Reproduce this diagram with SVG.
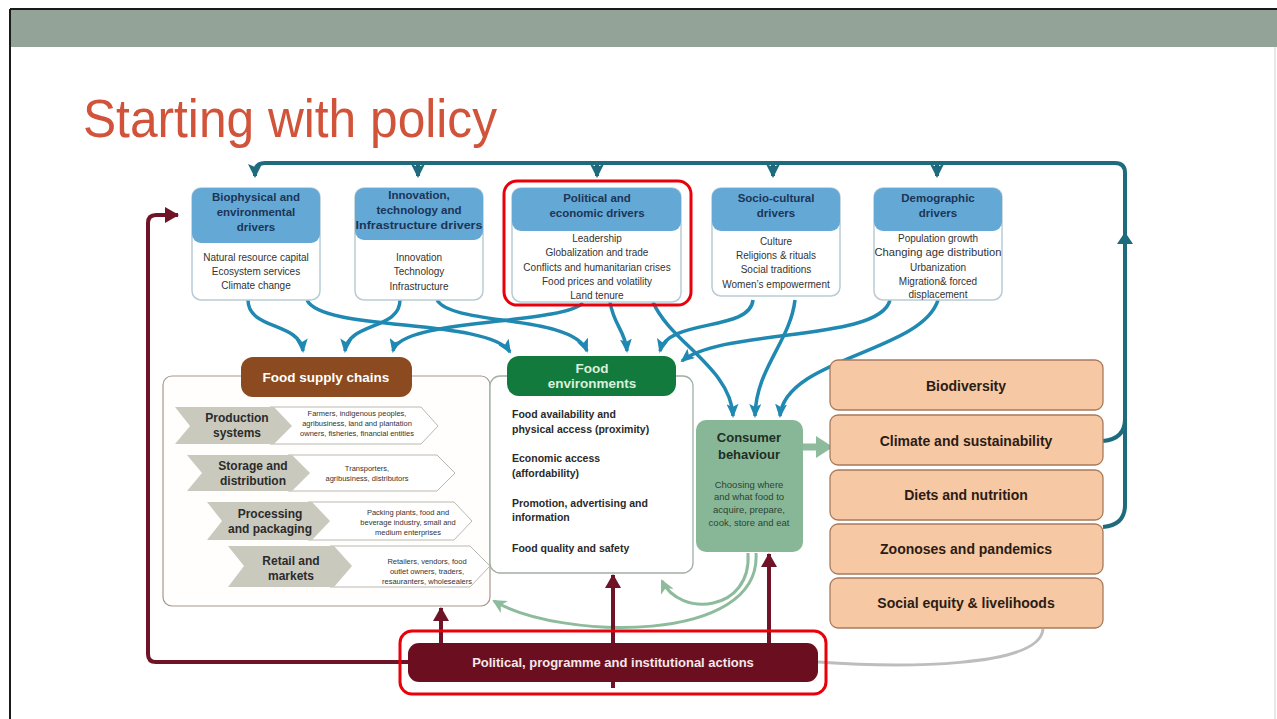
<svg xmlns="http://www.w3.org/2000/svg" width="1277" height="719" viewBox="0 0 1277 719">
  <defs>
    <marker id="ah-teal" markerUnits="userSpaceOnUse" markerWidth="14" markerHeight="12" viewBox="0 0 14 12" refX="12" refY="6" orient="auto">
      <path d="M0,0 L14,6 L0,12 L3,6 Z" fill="#1f89b1"/>
    </marker>
    <marker id="ah-dark" markerUnits="userSpaceOnUse" markerWidth="14" markerHeight="14" viewBox="0 0 14 14" refX="12" refY="7" orient="auto">
      <path d="M0,0 L14,7 L0,14 L3,7 Z" fill="#1d6b7c"/>
    </marker>
    <marker id="ah-maroon" markerUnits="userSpaceOnUse" markerWidth="14" markerHeight="16" viewBox="0 0 14 16" refX="13" refY="8" orient="auto">
      <path d="M0,0 L14,8 L0,16 Z" fill="#6e1426"/>
    </marker>
    <marker id="ah-sage" markerUnits="userSpaceOnUse" markerWidth="14" markerHeight="14" viewBox="0 0 14 14" refX="12" refY="7" orient="auto">
      <path d="M0,0 L14,7 L0,14 L4,7 Z" fill="#8dbb9c"/>
    </marker>
  </defs>
  <style>
    .sans { font-family: "Liberation Sans", Arial, sans-serif; }
    .drvbox { fill: #ffffff; stroke: #b9cbd5; stroke-width: 1.5; }
    .drvhead { fill: #64a8d6; }
    .drvtitle { font-family: "Liberation Sans", Arial, sans-serif; font-weight: bold; font-size: 11.5px; fill: #1c3556; text-anchor: middle; }
    .drvbody { font-family: "Liberation Sans", Arial, sans-serif; font-size: 10px; fill: #333333; text-anchor: middle; }
    .teal { fill: none; stroke: #1f89b1; stroke-width: 3.5; marker-end: url(#ah-teal); }
    .loop { fill: none; stroke: #1d6b7c; stroke-width: 4; }
    .maroon { fill: none; stroke: #6e1426; stroke-width: 4; }
    .sage { fill: none; stroke: #8dbb9c; stroke-width: 3; marker-end: url(#ah-sage); }
    .chev { fill: #c9c9bd; }
    .chevw { fill: #ffffff; stroke: #b8b8b0; stroke-width: 1; }
    .chevlab { font-family: "Liberation Sans", Arial, sans-serif; font-weight: bold; font-size: 12px; fill: #2b2b2b; text-anchor: middle; }
    .chevdesc { font-family: "Liberation Sans", Arial, sans-serif; font-size: 7.5px; fill: #333333; text-anchor: middle; }
    .febody { font-family: "Liberation Sans", Arial, sans-serif; font-weight: bold; font-size: 10.5px; fill: #2a2a2a; }
    .outbox { fill: #f7c8a4; stroke: #a87a5c; stroke-width: 1.3; }
    .outtext { font-family: "Liberation Sans", Arial, sans-serif; font-weight: bold; font-size: 14px; fill: #2b1c14; text-anchor: middle; }
    .hl { fill: none; stroke: #e8000b; stroke-width: 3; }
  </style>

  <!-- slide frame and header band -->
  <rect x="0" y="0" width="1277" height="719" fill="#ffffff"/>
  <rect x="10" y="9" width="1267" height="38" fill="#93a397"/>
  <line x1="10" y1="9" x2="1277" y2="9" stroke="#1a1a1a" stroke-width="2"/>
  <line x1="10" y1="9" x2="10" y2="719" stroke="#1a1a1a" stroke-width="2"/>
  <line x1="1275" y1="47" x2="1275" y2="719" stroke="#d0d0d0" stroke-width="1"/>

  <text x="83" y="137" class="sans" font-size="54" fill="#d0533a" textLength="414" lengthAdjust="spacingAndGlyphs">Starting with policy</text>

  <!-- connectors -->
  <g id="connectors">
    <!-- feedback loop along the top -->
    <path class="loop" d="M1103,527 Q1125,525 1125,505 V173 Q1125,163 1115,163 H265 Q255,163 255,173 V176" marker-end="url(#ah-dark)"/>
    <path class="loop" d="M1103,441 Q1125,439 1125,419"/>
    <path d="M1117,244 L1125,232 L1133,244 Z" fill="#1d6b7c"/>
    <path class="loop" d="M418,163 V176" marker-end="url(#ah-dark)"/>
    <path class="loop" d="M597,163 V176" marker-end="url(#ah-dark)"/>
    <path class="loop" d="M773,163 V176" marker-end="url(#ah-dark)"/>
    <path class="loop" d="M937,163 V176" marker-end="url(#ah-dark)"/>

    <!-- drivers to food supply chains -->
    <path class="teal" d="M248,300 C248,330 300,322 303,351"/>
    <path class="teal" d="M400,300 C400,330 348,322 345,351"/>
    <path class="teal" d="M583,303 C560,325 400,318 393,351"/>
    <!-- drivers to food environments -->
    <path class="teal" d="M307,300 C322,332 488,318 510,352"/>
    <path class="teal" d="M437,300 C452,326 572,314 587,351"/>
    <path class="teal" d="M610,302 C614,326 625,330 627,351"/>
    <path class="teal" d="M753,300 C750,332 668,318 660,351"/>
    <path class="teal" d="M890,300 C880,342 722,328 682,361"/>
    <!-- drivers to consumer behaviour -->
    <path class="teal" d="M653,302 C670,342 731,368 733,416"/>
    <path class="teal" d="M795,300 C790,342 756,368 755,416"/>
    <path class="teal" d="M938,300 C922,352 785,358 780,416"/>

    <!-- consumer behaviour to outcomes -->
    <line x1="803" y1="447" x2="818" y2="447" stroke="#8dbb9c" stroke-width="7"/>
    <path d="M816,436 L833,447 L816,458 Z" fill="#8dbb9c"/>

    <!-- consumer feedback -->
    <path class="sage" d="M748,553 C752,612 680,618 662,581"/>
    <path class="sage" d="M756,553 C762,645 560,640 494,601"/>

    <!-- outcomes back to actions -->
    <path d="M1043,629 C1040,668 900,668 818,662" fill="none" stroke="#bdbdbd" stroke-width="3"/>

    <!-- policy actions -->
    <path class="maroon" d="M408,662 H156 Q148,662 148,654 V223 Q148,215 156,215 H178" marker-end="url(#ah-maroon)"/>
    <path class="maroon" d="M441,643 V608" marker-end="url(#ah-maroon)"/>
    <path class="maroon" d="M613,688 V575" marker-end="url(#ah-maroon)"/>
    <path class="maroon" d="M769,643 V554" marker-end="url(#ah-maroon)"/>
  </g>

  <!-- drivers -->
  <g id="biophysical">
    <rect class="drvbox" x="192" y="188" width="128" height="112" rx="9"/>
    <rect class="drvhead" x="192" y="188" width="128" height="55" rx="9"/>
    <text class="drvtitle" x="256" y="201">Biophysical and</text>
    <text class="drvtitle" x="256" y="216">environmental</text>
    <text class="drvtitle" x="256" y="231">drivers</text>
    <text class="drvbody" x="256" y="261">Natural resource capital</text>
    <text class="drvbody" x="256" y="275">Ecosystem services</text>
    <text class="drvbody" x="256" y="289">Climate change</text>
  </g>
  <g id="innovation">
    <rect class="drvbox" x="355" y="188" width="128" height="112" rx="9"/>
    <rect class="drvhead" x="355" y="188" width="128" height="52" rx="9"/>
    <text class="drvtitle" x="419" y="199">Innovation,</text>
    <text class="drvtitle" x="419" y="214">technology and</text>
    <text class="drvtitle" x="419" y="229" textLength="127" lengthAdjust="spacingAndGlyphs">Infrastructure drivers</text>
    <text class="drvbody" x="419" y="261">Innovation</text>
    <text class="drvbody" x="419" y="275">Technology</text>
    <text class="drvbody" x="419" y="290">Infrastructure</text>
  </g>
  <g id="political-economic">
    <rect class="drvbox" x="512" y="188" width="169" height="114" rx="9"/>
    <rect class="drvhead" x="512" y="188" width="169" height="43" rx="9"/>
    <text class="drvtitle" x="597" y="202">Political and</text>
    <text class="drvtitle" x="597" y="217">economic drivers</text>
    <text class="drvbody" x="597" y="242">Leadership</text>
    <text class="drvbody" x="597" y="256">Globalization and trade</text>
    <text class="drvbody" x="597" y="271">Conflicts and humanitarian crises</text>
    <text class="drvbody" x="597" y="285">Food prices and volatility</text>
    <text class="drvbody" x="597" y="299">Land tenure</text>
    <rect class="hl" x="504" y="181" width="187" height="124" rx="13"/>
  </g>
  <g id="socio-cultural">
    <rect class="drvbox" x="712" y="188" width="128" height="108" rx="9"/>
    <rect class="drvhead" x="712" y="188" width="128" height="43" rx="9"/>
    <text class="drvtitle" x="776" y="202">Socio-cultural</text>
    <text class="drvtitle" x="776" y="217">drivers</text>
    <text class="drvbody" x="776" y="245">Culture</text>
    <text class="drvbody" x="776" y="259">Religions &amp; rituals</text>
    <text class="drvbody" x="776" y="273">Social traditions</text>
    <text class="drvbody" x="776" y="288">Women’s empowerment</text>
  </g>
  <g id="demographic">
    <rect class="drvbox" x="874" y="188" width="128" height="112" rx="9"/>
    <rect class="drvhead" x="874" y="188" width="128" height="43" rx="9"/>
    <text class="drvtitle" x="938" y="202">Demographic</text>
    <text class="drvtitle" x="938" y="217">drivers</text>
    <text class="drvbody" x="938" y="242">Population growth</text>
    <text class="drvbody" x="938" y="256" textLength="127" lengthAdjust="spacingAndGlyphs">Changing age distribution</text>
    <text class="drvbody" x="938" y="271">Urbanization</text>
    <text class="drvbody" x="938" y="285">Migration&amp; forced</text>
    <text class="drvbody" x="938" y="298">displacement</text>
  </g>

  <!-- food supply chains -->
  <g id="food-supply-chains">
    <rect x="163" y="376" width="327" height="230" rx="9" fill="#fffefc" stroke="#a8978a" stroke-width="1.2"/>
    <rect x="241" y="357" width="171" height="40" rx="12" fill="#8b4a20"/>
    <text x="326" y="382" class="sans" font-weight="bold" font-size="13.5" fill="#ffffff" text-anchor="middle">Food supply chains</text>

    <path class="chevw" d="M270,407 H421 L438,426 L421,444 H270 Z"/>
    <path class="chev" d="M175,407 H274 L292,426 L274,444 H175 L190,426 Z"/>
    <text class="chevlab" x="237" y="422">Production</text>
    <text class="chevlab" x="237" y="437">systems</text>
    <text class="chevdesc" x="357" y="416">Farmers, indigenous peoples,</text>
    <text class="chevdesc" x="357" y="426">agribusiness, land and plantation</text>
    <text class="chevdesc" x="357" y="436">owners, fisheries, financial entities</text>

    <path class="chevw" d="M288,455 H437 L455,473 L437,491 H288 Z"/>
    <path class="chev" d="M187,455 H292 L310,473 L292,491 H187 L202,473 Z"/>
    <text class="chevlab" x="253" y="470">Storage and</text>
    <text class="chevlab" x="253" y="485">distribution</text>
    <text class="chevdesc" x="367" y="471">Transporters,</text>
    <text class="chevdesc" x="367" y="481">agribusiness, distributors</text>

    <path class="chevw" d="M308,502 H454 L472,521 L454,540 H308 Z"/>
    <path class="chev" d="M207,502 H312 L330,521 L312,540 H207 L222,521 Z"/>
    <text class="chevlab" x="270" y="518">Processing</text>
    <text class="chevlab" x="270" y="533">and packaging</text>
    <text class="chevdesc" x="408" y="515">Packing plants, food and</text>
    <text class="chevdesc" x="408" y="525">beverage industry, small and</text>
    <text class="chevdesc" x="408" y="535">medium enterprises</text>

    <path class="chevw" d="M330,546 H470 L490,566 L470,587 H330 Z"/>
    <path class="chev" d="M228,546 H334 L352,566 L334,587 H228 L244,566 Z"/>
    <text class="chevlab" x="291" y="565">Retail and</text>
    <text class="chevlab" x="291" y="580">markets</text>
    <text class="chevdesc" x="427" y="564">Retailers, vendors, food</text>
    <text class="chevdesc" x="427" y="574">outlet owners, traders,</text>
    <text class="chevdesc" x="427" y="584">resauranters, wholesealers</text>
  </g>

  <!-- food environments -->
  <g id="food-environments">
    <rect x="490" y="376" width="203" height="197" rx="10" fill="#ffffff" stroke="#9fb0a4" stroke-width="1.3"/>
    <rect x="507" y="356" width="169" height="40" rx="12" fill="#137a3e"/>
    <text x="592" y="373" class="sans" font-weight="bold" font-size="13.5" fill="#d9f0dc" text-anchor="middle">Food</text>
    <text x="592" y="388" class="sans" font-weight="bold" font-size="13.5" fill="#d9f0dc" text-anchor="middle">environments</text>
    <text class="febody" x="512" y="418">Food availability and</text>
    <text class="febody" x="512" y="433">physical access (proximity)</text>
    <text class="febody" x="512" y="462">Economic access</text>
    <text class="febody" x="512" y="477">(affordability)</text>
    <text class="febody" x="512" y="507">Promotion, advertising and</text>
    <text class="febody" x="512" y="521">information</text>
    <text class="febody" x="512" y="552">Food quality and safety</text>
  </g>

  <!-- consumer behaviour -->
  <g id="consumer-behaviour">
    <rect x="696" y="420" width="107" height="132" rx="10" fill="#88b797"/>
    <text x="749" y="442" class="sans" font-weight="bold" font-size="13" fill="#1e2e24" text-anchor="middle">Consumer</text>
    <text x="749" y="459" class="sans" font-weight="bold" font-size="13" fill="#1e2e24" text-anchor="middle">behaviour</text>
    <text x="749" y="488" class="sans" font-size="9.5" fill="#2c4434" text-anchor="middle">Choosing where</text>
    <text x="749" y="500" class="sans" font-size="9.5" fill="#2c4434" text-anchor="middle">and what food to</text>
    <text x="749" y="513" class="sans" font-size="9.5" fill="#2c4434" text-anchor="middle">acquire, prepare,</text>
    <text x="749" y="526" class="sans" font-size="9.5" fill="#2c4434" text-anchor="middle">cook, store and eat</text>
  </g>

  <!-- outcomes -->
  <g id="biodiversity">
    <rect class="outbox" x="830" y="360" width="273" height="50" rx="8"/>
    <text class="outtext" x="966" y="391">Biodiversity</text>
  </g>
  <g id="climate-sustainability">
    <rect class="outbox" x="830" y="415" width="273" height="50" rx="8"/>
    <text class="outtext" x="966" y="446">Climate and sustainability</text>
  </g>
  <g id="diets-nutrition">
    <rect class="outbox" x="830" y="470" width="273" height="50" rx="8"/>
    <text class="outtext" x="966" y="500">Diets and nutrition</text>
  </g>
  <g id="zoonoses-pandemics">
    <rect class="outbox" x="830" y="524" width="273" height="50" rx="8"/>
    <text class="outtext" x="966" y="554">Zoonoses and pandemics</text>
  </g>
  <g id="social-equity">
    <rect class="outbox" x="830" y="578" width="273" height="50" rx="8"/>
    <text class="outtext" x="966" y="608">Social equity &amp; livelihoods</text>
  </g>

  <!-- policy actions -->
  <g id="policy-actions">
    <rect x="408" y="643" width="410" height="39" rx="11" fill="#6b0f20"/>
    <text x="613" y="667" class="sans" font-weight="bold" font-size="13" fill="#f4e8ea" text-anchor="middle">Political, programme and institutional actions</text>
    <rect class="hl" x="400" y="631" width="426" height="63" rx="12"/>
  </g>
</svg>
